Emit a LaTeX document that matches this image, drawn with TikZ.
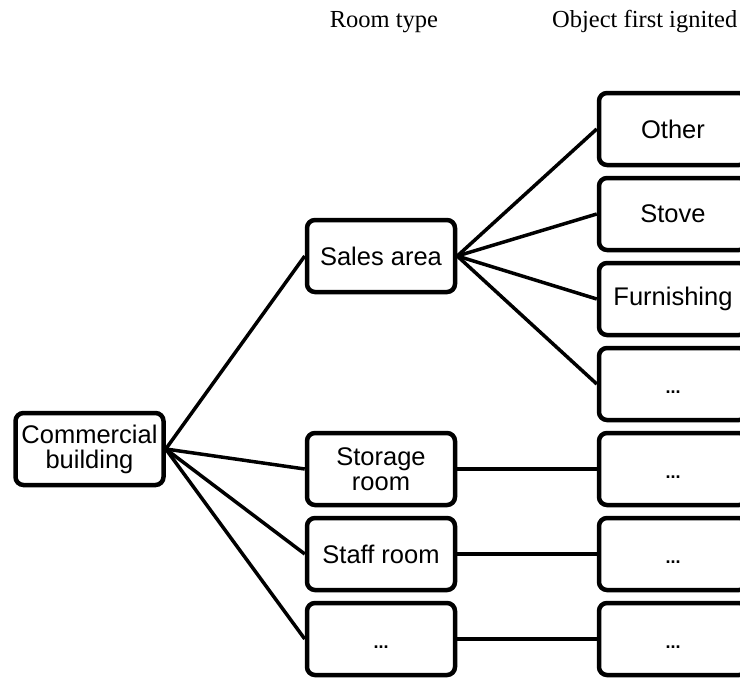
\documentclass[tikz,border=0pt]{standalone}
\usepackage{fontspec}
\setmainfont{Liberation Serif}
\newfontfamily\boxfont{Liberation Sans}
\newcommand{\moredots}{\smash{\raisebox{-9pt}{...}}}
\begin{document}
\begin{tikzpicture}[x=1pt,y=-1pt,
  box/.style={draw=black, line width=4.5pt, rounded corners=8pt, fill=white,
    minimum width=148pt, minimum height=72pt, inner sep=2pt, align=center,
    font=\boxfont\fontsize{25.5}{25}\selectfont},
  more/.style={box, font=\boxfont\bfseries\fontsize{18}{18}\selectfont},
  link/.style={draw=black, line width=3.5pt},
  head/.style={font=\fontsize{24.5}{26}\selectfont, inner sep=0pt}]
\useasboundingbox (0,0) rectangle (740,681);

% column headings
\node[head, anchor=base] (hroom) at (384,27) {Room type};
\node[head, anchor=base west] (hobj) at (552,27) {Object first ignited};

% root
\node[box] (cb) at (89.5,449) {Commercial\\building};

% room types
\node[box] (sales) at (381,256) {Sales area};
\node[box] (storage) at (381,469) {Storage\\room};
\node[box] (staff) at (381,554) {Staff room};
\node[more] (rmore) at (381,639) {\moredots};

% objects first ignited
\node[box] (other) at (673,129) {Other};
\node[box] (stove) at (673,214) {Stove};
\node[box] (furn) at (673,299) {Furnishing};
\node[more] (omore1) at (673,384) {\moredots};
\node[more] (omore2) at (673,469) {\moredots};
\node[more] (omore3) at (673,554) {\moredots};
\node[more] (omore4) at (673,639) {\moredots};

% connectors
\foreach \t in {sales,storage,staff,rmore}
  \draw[link] (cb.east) -- (\t.west);
\foreach \t in {other,stove,furn,omore1}
  \draw[link] (sales.east) -- (\t.west);
\draw[link] (storage.east) -- (omore2.west);
\draw[link] (staff.east) -- (omore3.west);
\draw[link] (rmore.east) -- (omore4.west);
\end{tikzpicture}
\end{document}
